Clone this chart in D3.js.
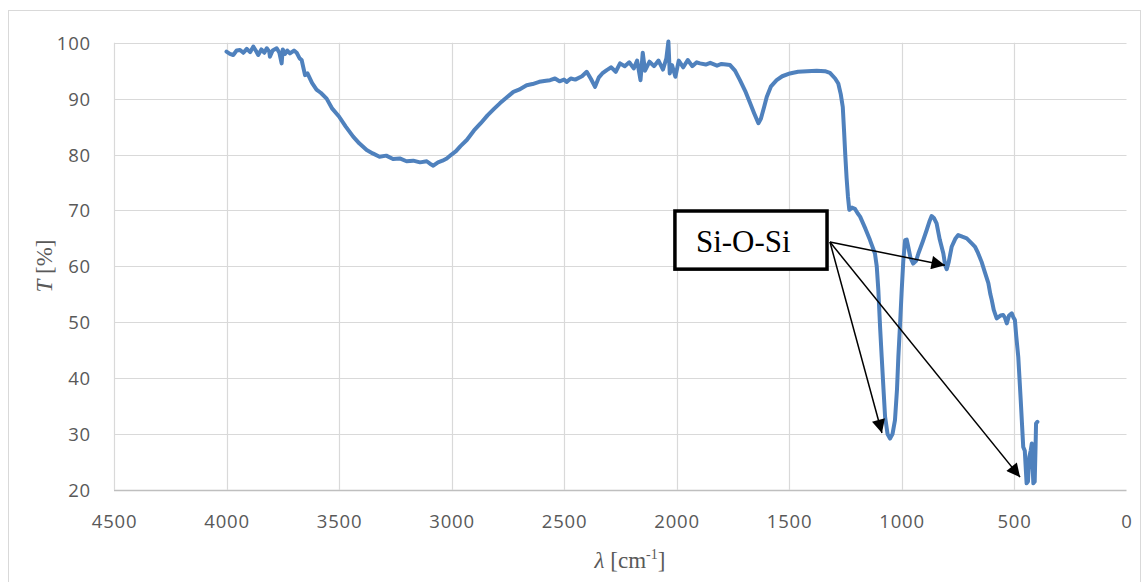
<!DOCTYPE html>
<html>
<head>
<meta charset="utf-8">
<script src="https://cdn.jsdelivr.net/npm/d3@7"></script>
<style>
  body { margin: 0; background: #fff; }
  svg { display: block; }
</style>
</head>
<body>
<svg id="chart" width="1143" height="582"></svg>
<script>
// ---- data ----
const wavenumber = [
  4000,3985,3970,3955,3940,3925,3910,3895,3881,3870,3859,3845,3832,3821,3810,3807,3795,3777,3765,3755,
  3750,3740,3730,3718,3700,3688,3675,3666,3651,3640,3620,3600,3580,3555,3530,3500,3470,3437,3410,3377,
  3350,3320,3290,3260,3230,3200,3170,3140,3110,3090,3081,3060,3040,3021,3000,2980,2960,2932,2900,2870,
  2840,2810,2784,2755,2725,2700,2666,2640,2610,2580,2562,2540,2520,2500,2488,2470,2450,2420,2399,2380,
  2362,2345,2330,2310,2290,2270,2251,2230,2210,2190,2175,2160,2150,2140,2120,2100,2080,2060,2045,2036,
  2030,2020,2005,1990,1970,1950,1930,1910,1896,1870,1850,1820,1800,1780,1762,1740,1718,1695,1673,1655,
  1636,1625,1610,1599,1580,1555,1530,1496,1460,1420,1377,1340,1318,1295,1281,1270,1261,1255,1250,1244,
  1238,1232,1220,1207,1195,1184,1160,1140,1118,1110,1103,1095,1088,1080,1073,1062,1051,1040,1029,1020,
  1014,1006,999,992,984,977,970,960,948,935,925,905,888,876,866,855,844,830,814,806,
  799,790,777,760,748,730,710,690,673,660,644,630,614,605,599,590,577,560,548,540,
  532,522,510,503,496,490,481,470,459,452,444,438,432,426,421,417,414,408,404,402,
  396
];
const transmittance = [
  98.4,98.0,97.8,98.6,98.7,98.2,98.9,98.3,99.3,98.6,97.8,98.8,98.2,99.0,98.4,97.5,98.6,99.0,98.2,96.3,
  98.8,98.0,98.6,98.1,98.6,98.2,97.2,96.9,94.2,94.5,92.8,91.6,91.0,90.0,88.2,86.8,85.0,83.2,82.0,80.8,
  80.2,79.6,79.8,79.2,79.3,78.8,78.9,78.6,78.8,78.2,78.0,78.6,78.9,79.3,80.0,80.6,81.5,82.6,84.3,85.6,
  87.0,88.2,89.2,90.2,91.2,91.6,92.4,92.6,93.0,93.2,93.3,93.6,93.1,93.4,93.0,93.6,93.4,94.0,94.8,93.5,
  92.1,93.8,94.5,95.1,95.6,94.8,96.3,95.8,96.5,95.4,96.8,93.3,98.2,95.0,96.6,95.8,96.8,95.2,97.2,100.2,
  94.5,96.0,93.9,96.8,95.6,96.9,95.8,96.5,96.3,96.1,96.4,95.9,96.2,96.1,96.0,95.0,93.3,91.4,89.2,87.4,
  85.6,86.4,88.6,90.3,92.2,93.3,94.0,94.5,94.8,94.9,95.0,94.9,94.6,93.6,92.7,90.8,88.5,84.0,80.0,75.8,
  72.5,70.1,70.5,70.3,69.5,68.9,66.7,64.7,62.3,60.0,55.8,49.0,43.8,38.0,33.1,30.0,29.2,30.0,32.5,38.0,
  43.8,50.0,55.8,61.0,64.7,64.8,63.5,61.5,60.5,61.0,62.3,64.5,66.5,68.0,69.0,68.6,67.7,64.8,62.3,60.2,
  59.5,60.8,63.5,65.0,65.6,65.3,65.0,64.2,63.5,62.4,60.8,59.0,57.0,55.0,54.0,52.2,50.7,51.2,51.3,50.8,
  49.8,51.2,51.6,50.9,50.4,47.5,43.8,36.0,27.7,27.0,21.2,21.5,25.9,27.0,28.3,24.0,21.2,21.5,28.0,31.9,
  32.2
];
const xTicks = [4500,4000,3500,3000,2500,2000,1500,1000,500,0];
const yTicks = [20,30,40,50,60,70,80,90,100];
const annotationLabel = "Si-O-Si";
// annotation box corners and arrows in data units [wavenumber, T]
const annotationBox = [[2007, 69.9], [1331, 59.5]];
const arrowStart = [1318, 64.35];
const arrowTips = [[807, 60.2], [1087, 30.2], [473, 22.3]];

(function () {
// ---- layout ----
const svg = d3.select("#chart");
const pL = 114, pR = 1126.5, pT = 42.7, pB = 490;

const x = d3.scaleLinear().domain([4500, 0]).range([pL, pR]);
const y = d3.scaleLinear().domain([20, 100]).range([pB, pT]);

// outer chart border
svg.append("rect")
  .attr("x", 8.5).attr("y", 10.5).attr("width", 1132).attr("height", 620)
  .attr("fill", "#fff").attr("stroke", "#d9d9d9").attr("stroke-width", 1);

// gridlines
const grid = svg.append("g");
grid.selectAll("line.h").data(yTicks).enter().append("line")
  .attr("x1", pL).attr("x2", pR)
  .attr("y1", d => Math.round(y(d)) + 0.5).attr("y2", d => Math.round(y(d)) + 0.5)
  .attr("stroke", d => d === 20 ? "#bfbfbf" : "#d9d9d9").attr("stroke-width", d => d === 20 ? 1.5 : 1.2);
grid.selectAll("line.v").data(xTicks.filter(d => d !== 0)).enter().append("line")
  .attr("y1", pT).attr("y2", pB)
  .attr("x1", d => Math.round(x(d)) + 0.5).attr("x2", d => Math.round(x(d)) + 0.5)
  .attr("stroke", "#d9d9d9").attr("stroke-width", 1.2);

// axes (labels only)
const tickFont = "'Open Sans', 'Noto Sans', sans-serif";
const xAxis = d3.axisBottom(x).tickValues(xTicks).tickSize(0).tickPadding(0).tickFormat(d3.format("d"));
const gx = svg.append("g").attr("transform", `translate(0,${pB})`).call(xAxis);
gx.select(".domain").remove();
gx.selectAll("text").attr("y", 38).attr("dy", 0)
  .attr("font-family", tickFont).attr("font-size", 18.5).attr("fill", "#595959")
  .style("letter-spacing", "0.8px");

const yAxis = d3.axisLeft(y).tickValues(yTicks).tickSize(0).tickPadding(0).tickFormat(d3.format("d"));
const gy = svg.append("g").attr("transform", `translate(${pL},0)`).call(yAxis);
gy.select(".domain").remove();
gy.selectAll("text").attr("x", -23).attr("dy", "0.35em")
  .attr("font-family", tickFont).attr("font-size", 18.5).attr("fill", "#595959")
  .style("letter-spacing", "0.8px");

// axis titles
const serif = "'Liberation Serif', 'DejaVu Serif', serif";
const yt = svg.append("text")
  .attr("transform", "translate(52,266) rotate(-90)")
  .attr("text-anchor", "middle")
  .attr("font-family", serif).attr("font-size", 23).attr("fill", "#595959");
yt.append("tspan").attr("font-style", "italic").text("T");
yt.append("tspan").text(" [%]");

const xt = svg.append("text")
  .attr("x", 630).attr("y", 568)
  .attr("text-anchor", "middle")
  .attr("font-family", serif).attr("font-size", 23).attr("fill", "#595959");
xt.append("tspan").attr("font-style", "italic").text("λ");
xt.append("tspan").text(" [cm");
xt.append("tspan").attr("dy", -9).attr("font-size", 14).text("-1");
xt.append("tspan").attr("dy", 9).text("]");

// spectrum line
const pts = wavenumber.map((w, i) => [w, transmittance[i]]);
const line = d3.line().x(d => x(d[0])).y(d => y(d[1]));
svg.append("path")
  .datum(pts)
  .attr("d", line)
  .attr("fill", "none")
  .attr("stroke", "#4f81bd")
  .attr("stroke-width", 4)
  .attr("stroke-linejoin", "round")
  .attr("stroke-linecap", "round");

// annotation
const defs = svg.append("defs");
defs.append("marker")
  .attr("id", "arrow").attr("viewBox", "0 0 10 10")
  .attr("refX", 10).attr("refY", 5)
  .attr("markerWidth", 11).attr("markerHeight", 9)
  .attr("markerUnits", "strokeWidth")
  .attr("orient", "auto")
  .append("path").attr("d", "M0,0 L10,5 L0,10 Z").attr("fill", "#000");

svg.append("g").selectAll("line").data(arrowTips).enter().append("line")
  .attr("x1", x(arrowStart[0])).attr("y1", y(arrowStart[1]))
  .attr("x2", d => x(d[0])).attr("y2", d => y(d[1]))
  .attr("stroke", "#000").attr("stroke-width", 1.5)
  .attr("marker-end", "url(#arrow)");

const bx0 = x(annotationBox[0][0]), by0 = y(annotationBox[0][1]);
const bx1 = x(annotationBox[1][0]), by1 = y(annotationBox[1][1]);
svg.append("rect")
  .attr("x", bx0).attr("y", by0)
  .attr("width", bx1 - bx0).attr("height", by1 - by0)
  .attr("fill", "#fff").attr("stroke", "#000").attr("stroke-width", 3.5);
svg.append("text")
  .attr("x", bx0 + 21).attr("y", by0 + 41)
  .attr("font-family", serif).attr("font-size", 31).attr("fill", "#000")
  .text(annotationLabel);
})();
</script>
</body>
</html>
